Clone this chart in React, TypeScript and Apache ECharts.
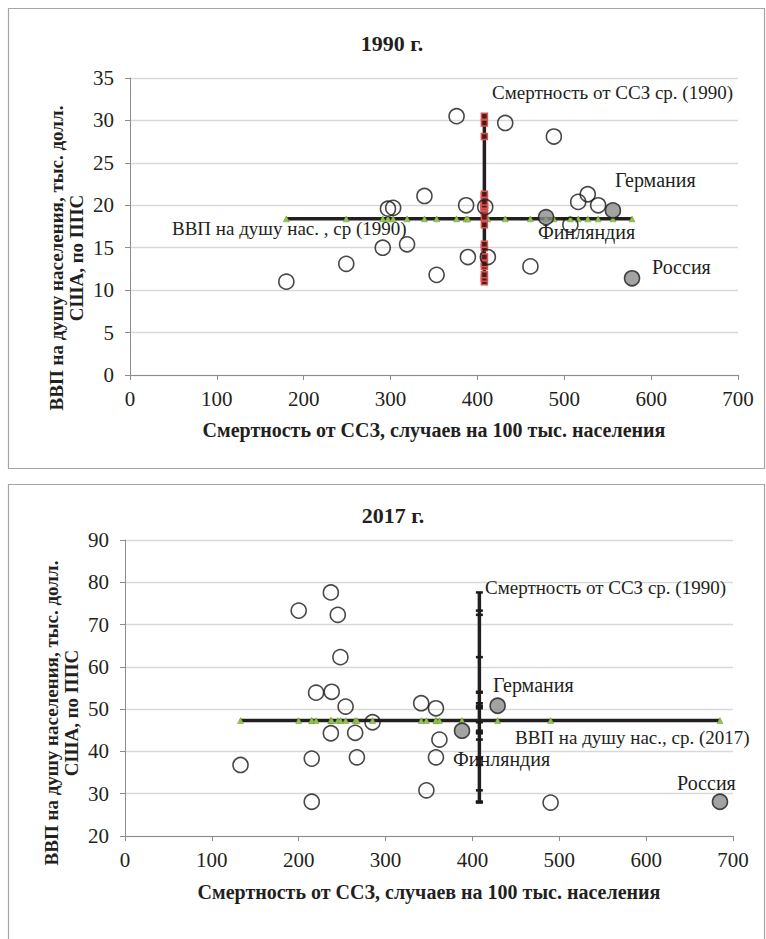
import React, { useEffect, useRef } from 'react';
import * as echarts from 'echarts';

// ---------- 1990 ----------
const mort1990 = [180, 249, 291, 297, 303, 319, 339, 353, 376, 387, 389, 409, 412, 432, 461, 488, 507, 516, 527, 539];
const gdp1990 = [11.0, 13.1, 15.0, 19.6, 19.7, 15.4, 21.1, 11.8, 30.5, 20.0, 13.9, 19.8, 13.9, 29.7, 12.8, 28.1, 17.7, 20.4, 21.3, 20.0];
const highlightNames = ['Германия', 'Финляндия', 'Россия'];
const highlightMort1990 = [556, 479, 578];
const highlightGdp1990 = [19.4, 18.6, 11.4];
const meanMort1990 = 408;
const meanGdp1990 = 18.4;

// ---------- 2017 ----------
const mort2017 = [133, 200, 215, 215, 220, 237, 237, 238, 245, 248, 254, 265, 267, 285, 341, 347, 358, 362, 358, 490];
const gdp2017 = [36.8, 73.3, 38.3, 28.1, 53.9, 77.6, 44.3, 54.1, 72.3, 62.3, 50.6, 44.4, 38.6, 46.9, 51.4, 30.8, 50.2, 42.8, 38.6, 27.9];
const highlightMort2017 = [429, 388, 685];
const highlightGdp2017 = [50.8, 44.9, 28.1];
const meanGdp2017 = 47.3;

// ---------- texts ----------
const titles = ['1990 г.', '2017 г.'];
const xTitle = 'Смертность от ССЗ, случаев на 100 тыс. населения';
const yTitle = 'ВВП на душу населения, тыс. долл.\nСША, по ППС';
const mortMeanLabel = 'Смертность от ССЗ ср. (1990)';
const gdpMeanLabel1990 = 'ВВП на душу нас. , ср (1990)';
const gdpMeanLabel2017 = 'ВВП на душу нас., ср. (2017)';

const FONT = 'Liberation Serif, Times New Roman, serif';
const TXT = '#231f20';
const LINE = '#231f20';

function pairs(xs: number[], ys: number[]) {
  return xs.map((x, i) => [x, ys[i]]);
}

function txt(x: number, y: number, text: string, size: number, opts: any = {}) {
  return {
    type: 'text',
    x,
    y,
    rotation: opts.rotation || 0,
    z: 50,
    style: {
      text,
      fontSize: size,
      fontWeight: opts.bold ? 'bold' : 'normal',
      fontFamily: FONT,
      fill: TXT,
      align: opts.align || 'left',
      verticalAlign: 'middle',
      textAlign: opts.align || 'left',
      textVerticalAlign: 'middle',
      lineHeight: opts.lineHeight,
    },
  };
}

export default function App() {
  const ref = useRef<HTMLDivElement>(null);

  useEffect(() => {
    if (!ref.current) return;
    const chart = echarts.init(ref.current, undefined, { renderer: 'svg' });

    const allMort1990 = [...mort1990, ...highlightMort1990];
    const allGdp1990 = [...gdp1990, ...highlightGdp1990];
    const allMort2017 = [...mort2017, ...highlightMort2017];
    const allGdp2017 = [...gdp2017, ...highlightGdp2017];

    const hLine1990 = [...allMort1990].sort((a, b) => a - b).map((x) => [x, meanGdp1990]);
    const vLine1990 = [...allGdp1990].sort((a, b) => a - b).map((y) => [meanMort1990, y]);
    const hLine2017 = [...allMort2017].sort((a, b) => a - b).map((x) => [x, meanGdp2017]);
    const vLine2017 = [...allGdp2017].sort((a, b) => a - b).map((y) => [meanMort1990, y]);

    const xAxisBase = (gridIndex: number) => ({
      type: 'value',
      gridIndex,
      min: 0,
      max: 700,
      interval: 100,
      axisLine: { show: true, lineStyle: { color: '#8c8c8c', width: 1 } },
      axisTick: { show: true, length: 5, lineStyle: { color: '#8c8c8c' } },
      splitLine: { show: false },
      axisLabel: { fontSize: 21, fontFamily: FONT, color: TXT, margin: 13 },
    });
    const yAxisBase = (gridIndex: number, min: number, max: number, interval: number) => ({
      type: 'value',
      gridIndex,
      min,
      max,
      interval,
      axisLine: { show: true, lineStyle: { color: '#8c8c8c', width: 1 } },
      axisTick: { show: true, length: 5, lineStyle: { color: '#8c8c8c' } },
      splitLine: { show: true, lineStyle: { color: '#d9d9d9', width: 1.3 } },
      axisLabel: { fontSize: 21, fontFamily: FONT, color: TXT, margin: 16 },
    });

    const hLineSeries = (idx: number, data: number[][]) => ({
      type: 'line',
      xAxisIndex: idx,
      yAxisIndex: idx,
      data,
      lineStyle: { color: LINE, width: 3.5 },
      symbol: 'triangle',
      symbolSize: 6,
      itemStyle: { color: '#93c04e', borderColor: '#6f9a33', borderWidth: 0.5 },
      z: 2,
    });
    const vLineSeries = (idx: number, data: number[][], red: boolean) => ({
      type: 'line',
      xAxisIndex: idx,
      yAxisIndex: idx,
      data,
      lineStyle: { color: LINE, width: 3.5 },
      symbol: 'rect',
      symbolSize: red ? 6 : [7, 2.5],
      itemStyle: red
        ? { color: '#4a1c1c', borderColor: '#d9534f', borderWidth: 1.5 }
        : { color: '#1a1a1a' },
      z: 2,
    });
    const openSeries = (idx: number, data: number[][]) => ({
      type: 'scatter',
      xAxisIndex: idx,
      yAxisIndex: idx,
      data,
      symbol: 'circle',
      symbolSize: 15,
      itemStyle: { color: 'rgba(255,255,255,0)', borderColor: '#1a1a1a', borderWidth: 1.6 },
      z: 3,
    });
    const grayData = (xs: number[], ys: number[]) =>
      xs.map((x, i) => ({ name: highlightNames[i], value: [x, ys[i]] }));
    const graySeries = (idx: number, data: any[]) => ({
      type: 'scatter',
      xAxisIndex: idx,
      yAxisIndex: idx,
      data,
      symbol: 'circle',
      symbolSize: 15,
      itemStyle: { color: '#8c8c8c', borderColor: '#1a1a1a', borderWidth: 1.6 },
      z: 4,
    });

    const option: any = {
      animation: false,
      backgroundColor: '#ffffff',
      grid: [
        { left: 130, top: 78, width: 608, height: 297 },
        { left: 125, top: 540, width: 608, height: 296 },
      ],
      xAxis: [xAxisBase(0), xAxisBase(1)],
      yAxis: [yAxisBase(0, 0, 35, 5), yAxisBase(1, 20, 90, 10)],
      series: [
        hLineSeries(0, hLine1990),
        vLineSeries(0, vLine1990, true),
        openSeries(0, pairs(mort1990, gdp1990)),
        graySeries(0, grayData(highlightMort1990, highlightGdp1990)),
        hLineSeries(1, hLine2017),
        vLineSeries(1, vLine2017, false),
        openSeries(1, pairs(mort2017, gdp2017)),
        graySeries(1, grayData(highlightMort2017, highlightGdp2017)),
      ],
      graphic: [
        {
          type: 'rect',
          shape: { x: 8.5, y: 8.5, width: 756, height: 460 },
          style: { fill: 'none', stroke: '#a6a6a6', lineWidth: 1.2 },
          z: 0,
        },
        {
          type: 'rect',
          shape: { x: 8.5, y: 484.5, width: 756, height: 480 },
          style: { fill: 'none', stroke: '#a6a6a6', lineWidth: 1.2 },
          z: 0,
        },
        txt(392, 43, titles[0], 22, { bold: true, align: 'center' }),
        txt(393, 515, titles[1], 22, { bold: true, align: 'center' }),
        txt(434, 430, xTitle, 20, { bold: true, align: 'center' }),
        txt(429, 892, xTitle, 20, { bold: true, align: 'center' }),
        txt(66, 258, yTitle, 19, { bold: true, align: 'center', rotation: Math.PI / 2, lineHeight: 20 }),
        txt(61, 713, yTitle, 19, { bold: true, align: 'center', rotation: Math.PI / 2, lineHeight: 20 }),
        // 1990 annotations
        txt(733, 92, mortMeanLabel, 19, { align: 'right' }),
        txt(172, 228, gdpMeanLabel1990, 19),
        txt(615, 180, highlightNames[0], 20),
        txt(538, 232, highlightNames[1], 20),
        txt(652, 267, highlightNames[2], 20),
        // 2017 annotations
        txt(485, 587, mortMeanLabel, 19),
        txt(493, 685, highlightNames[0], 20),
        txt(515, 737, gdpMeanLabel2017, 19),
        txt(453, 759, highlightNames[1], 20),
        txt(677, 783, highlightNames[2], 20),
      ],
    };

    chart.setOption(option);
    return () => chart.dispose();
  }, []);

  return (
    <div
      ref={ref}
      style={{ position: 'absolute', left: 0, top: 0, width: 766, height: 939, background: '#fff' }}
    />
  );
}
